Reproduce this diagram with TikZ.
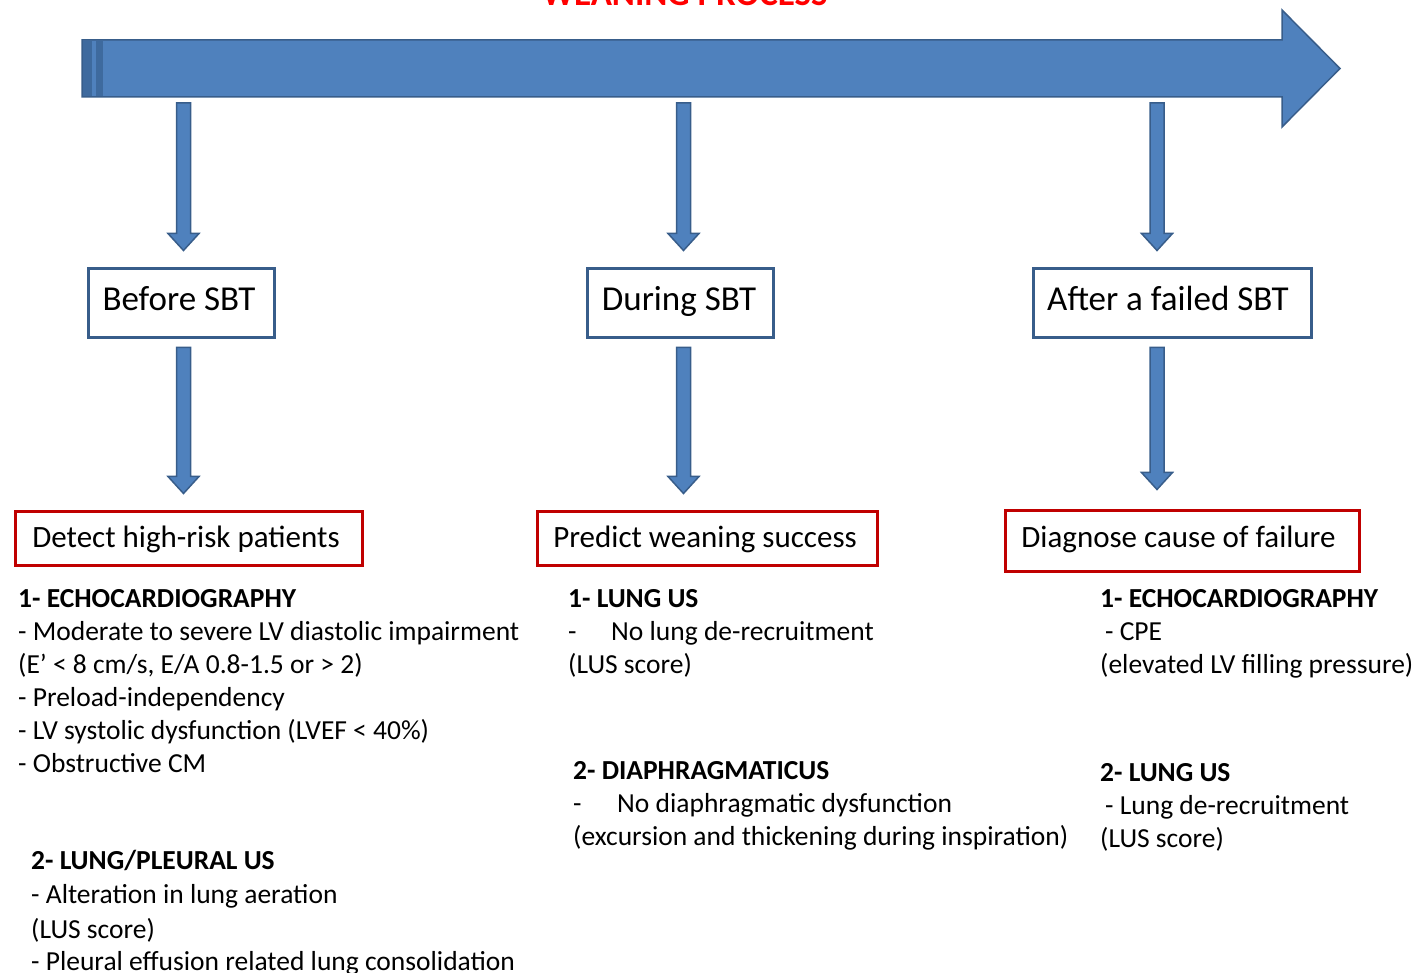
\documentclass[tikz,border=0pt]{standalone}
\usepackage{fontspec}
\setmainfont{Carlito}
\usetikzlibrary{calc}
\definecolor{bluefill}{HTML}{4F81BD}
\definecolor{blueborder}{HTML}{385D8A}
\definecolor{bluedark}{HTML}{3E6A9E}
\definecolor{redborder}{HTML}{C00000}
\definecolor{titlered}{HTML}{FF0000}
\newcommand\vArrow[2]{%
  \path[arrowbody] let \p1=#1, \p2=#2 in
    (\x1-7pt,\y1) -- (\x1+7pt,\y1) -- (\x1+7pt,\y2+17pt) -- (\x1+15.5pt,\y2+17pt)
    -- (\x1,\y2) -- (\x1-15.5pt,\y2+17pt) -- (\x1-7pt,\y2+17pt) -- cycle;}
\tikzset{
  arrowbody/.style={fill=bluefill, draw=blueborder, line width=1.5pt, line join=miter},
  phasebox/.style={draw=blueborder, line width=3pt, fill=white, minimum height=69pt,
    inner sep=0pt, text=black},
  phaselabel/.style={anchor=base, inner sep=0pt, font=\fontsize{35}{40}\selectfont, text=black},
  goalbox/.style={draw=redborder, line width=3pt, fill=white, inner sep=0pt},
  goallabel/.style={anchor=base, inner sep=0pt, font=\fontsize{31}{36}\selectfont, text=black},
  txt/.style={anchor=base west, inner sep=0pt, font=\fontsize{27.5}{32}\selectfont, text=black},
  head/.style={txt, font=\fontsize{27.5}{32}\selectfont\bfseries}
}
\begin{document}
\begin{tikzpicture}[x=1pt,y=-1pt]
\useasboundingbox (0,0) rectangle (1417,973);
% title
\node[anchor=base, inner sep=0pt, text=titlered, font=\fontsize{35}{40}\selectfont\bfseries] (title) at (685,6) {WEANING PROCESS};
% big arrow
\path[arrowbody] (82,40) -- (1282,40) -- (1282,10) -- (1340,68.5) -- (1282,127) -- (1282,97) -- (82,97) -- cycle;
\fill[bluedark] (83,41) rectangle (92,96);
\fill[bluedark] (96,41) rectangle (103,96);
\coordinate (big) at (711,97);
\coordinate (s1) at (183.5,103);
\coordinate (s2) at (683.5,103);
\coordinate (s3) at (1157,103);
% phase boxes
\node[phasebox, minimum width=186pt] (b1) at (181,303.5) {};
\node[phasebox, minimum width=186pt] (b2) at (680,303.5) {};
\node[phasebox, minimum width=278pt] (b3) at (1172,303.5) {};
\node[phaselabel] (b1t) at (179,311) {Before SBT};
\node[phaselabel] (b2t) at (679,311) {During SBT};
\node[phaselabel] (b3t) at (1168,311) {After a failed SBT};
% goal boxes
\node[goalbox, minimum width=347pt, minimum height=54pt] (r1) at (188.5,538) {};
\node[goalbox, minimum width=340pt, minimum height=54pt] (r2) at (707,538) {};
\node[goalbox, minimum width=354pt, minimum height=61pt] (r3) at (1182,540.5) {};
\node[goallabel] (r1t) at (186,547) {Detect high-risk patients};
\node[goallabel] (r2t) at (705,547) {Predict weaning success};
\node[goallabel] (r3t) at (1178.5,547) {Diagnose cause of failure};
% arrows
\vArrow{(s1)}{([xshift=2.5pt,yshift=17pt]b1.north)}
\vArrow{(s2)}{([xshift=3.5pt,yshift=17pt]b2.north)}
\vArrow{(s3)}{([xshift=-15pt,yshift=17pt]b3.north)}
\vArrow{([xshift=2.5pt,yshift=-8pt]b1.south)}{([xshift=-5pt,yshift=16pt]r1.north)}
\vArrow{([xshift=3.5pt,yshift=-8pt]b2.south)}{([xshift=-23.5pt,yshift=16pt]r2.north)}
\vArrow{([xshift=-15pt,yshift=-8pt]b3.south)}{([xshift=-25pt,yshift=19pt]r3.north)}
% left column
\node[head] (l1) at (18,607) {1- ECHOCARDIOGRAPHY};
\node[txt] (l2) at (18,640) {- Moderate to severe LV diastolic impairment};
\node[txt] (l3) at (18,673) {(E’ < 8 cm/s, E/A 0.8-1.5 or > 2)};
\node[txt] (l4) at (18,706) {- Preload-independency};
\node[txt] (l5) at (18,739) {- LV systolic dysfunction (LVEF < 40\%)};
\node[txt] (l6) at (18,772) {- Obstructive CM};
\node[head] (l7) at (31,869) {2- LUNG/PLEURAL US};
\node[txt] (l8) at (31,903) {- Alteration in lung aeration};
\node[txt] (l9) at (31,938) {(LUS score)};
\node[txt] (l10) at (31,970) {- Pleural effusion related lung consolidation};
% middle column
\node[head] (m1) at (568,607) {1- LUNG US};
\node[txt] (m2a) at (568,640) {-};
\node[txt] (m2) at (611,640) {No lung de-recruitment};
\node[txt] (m3) at (568,673) {(LUS score)};
\node[head] (m4) at (573,779) {2- DIAPHRAGMATICUS};
\node[txt] (m5a) at (573,812) {-};
\node[txt] (m5) at (617,812) {No diaphragmatic dysfunction};
\node[txt] (m6) at (573,845) {(excursion and thickening during inspiration)};
% right column
\node[head] (g1) at (1100,607) {1- ECHOCARDIOGRAPHY};
\node[txt] (g2) at (1105,640) {- CPE};
\node[txt] (g3) at (1100,673) {(elevated LV filling pressure)};
\node[head] (g4) at (1100,781) {2- LUNG US};
\node[txt] (g5) at (1105,814) {- Lung de-recruitment};
\node[txt] (g6) at (1100,847) {(LUS score)};
\end{tikzpicture}
\end{document}
